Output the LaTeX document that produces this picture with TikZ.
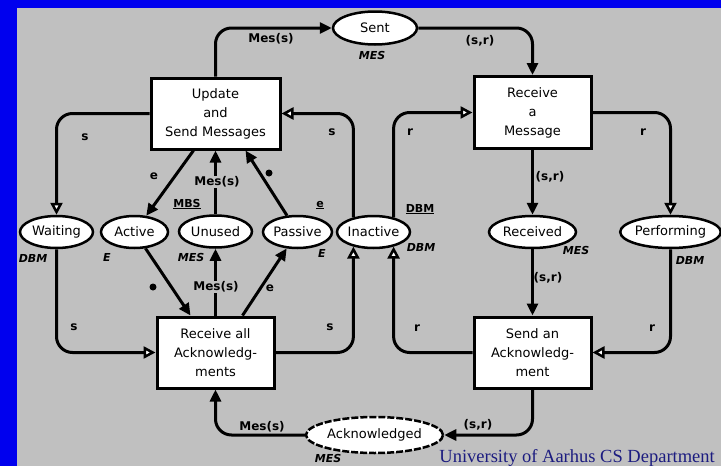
\documentclass[tikz,border=0pt]{standalone}
\usepackage{fontspec}
\setmainfont{DejaVu Sans}
\newfontfamily\captionfont{Liberation Serif}
\usetikzlibrary{arrows.meta,shapes.geometric}

\definecolor{frameblue}{HTML}{0000EE}
\definecolor{panelgray}{HTML}{C0C0C0}
\definecolor{captionnavy}{HTML}{1C1C80}

\tikzset{
  trans/.style={draw, line width=3pt, fill=white, align=center, inner sep=0pt,
    font=\fontsize{13}{19}\selectfont},
  place/.style={ellipse, draw, line width=2.5pt, fill=white, inner sep=0pt,
    minimum height=32pt, font=\fontsize{13}{15}\selectfont},
  arc/.style={line width=3pt, rounded corners=16pt},
  fillhead/.style={-{Triangle[length=12pt,width=11pt]}},
  openhead/.style={-{Triangle[length=12pt,width=12pt,fill=white,line width=2.5pt]}},
  lab/.style={font=\fontsize{12}{12}\selectfont\bfseries, inner sep=1pt},
  cset/.style={font=\fontsize{11}{11}\selectfont\bfseries\itshape, inner sep=0pt},
  initm/.style={font=\fontsize{11}{11}\selectfont\bfseries, inner sep=0pt},
  dotlab/.style={circle, fill=black, inner sep=0pt, minimum size=7pt}
}

\begin{document}
\begin{tikzpicture}[x=1pt,y=-1pt]
  % frame and panel
  \fill[frameblue] (0,0) rectangle (721,466);
  \fill[panelgray] (17,8) rectangle (721,466);
  \useasboundingbox (0,0) rectangle (721,466);

  % transitions
  \node[trans, minimum width=129pt, minimum height=71pt] (upd) at (215.5,113.5) {Update\\and\\Send Messages};
  \node[trans, minimum width=117pt, minimum height=72pt] (rcv) at (532.5,112.5) {Receive\\a\\Message};
  \node[trans, minimum width=117pt, minimum height=71pt] (rall) at (215.5,352.5) {Receive all\\Acknowledg-\\ments};
  \node[trans, minimum width=117pt, minimum height=71pt] (sack) at (532.5,352.5) {Send an\\Acknowledg-\\ment};

  % places
  \node[place, minimum width=73pt] (wait) at (56.5,232) {Waiting};
  \node[place, minimum width=67pt] (act) at (134.5,232) {Active};
  \node[place, minimum width=73pt] (unu) at (215.5,231.5) {Unused};
  \node[place, minimum width=69pt] (pas) at (297.5,232) {Passive};
  \node[place, minimum width=73pt] (inact) at (373.5,232) {Inactive};
  \node[place, minimum width=87pt] (recd) at (532.5,232) {Received};
  \node[place, minimum width=99pt] (perf) at (670.5,232) {Performing};
  \node[place, minimum width=84pt, minimum height=33pt] (sent) at (375,28) {Sent};
  \node[place, dashed, dash pattern=on 7pt off 2pt, minimum width=137pt, minimum height=36pt] (ackd) at (374.5,435) {Acknowledged};

  % colour sets
  \node[cset] (csw) at (33,258) {DBM};
  \node[cset] (csa) at (107,257) {E};
  \node[cset] (csu) at (191,257) {MES};
  \node[cset] (csp) at (322,253) {E};
  \node[cset] (csi) at (421,247) {DBM};
  \node[cset] (csr) at (576,250) {MES};
  \node[cset] (csf) at (690,260) {DBM};
  \node[cset] (css) at (372,55) {MES};
  \node[cset] (csk) at (328,458) {MES};

  % initial markings
  \node[initm] (imu) at (187,204) {\underline{MBS}};
  \node[initm] (imp) at (320,205) {\underline{e}};
  \node[initm] (imi) at (420,209) {\underline{DBM}};

  % arcs around the update transition
  \draw[arc,fillhead] (upd.north) |- (sent.west);
  \draw[arc,fillhead] (sent.east) -| (rcv.north);
  \draw[arc,openhead] (upd.west) -| (wait.north);
  \draw[arc,openhead] (inact.144) |- (upd.east);
  \draw[arc,fillhead] ([xshift=-22pt]upd.south) -- (act);
  \draw[arc,fillhead] (unu) -- (upd);
  \draw[arc,fillhead] (pas) -- ([xshift=30pt]upd.south);

  % arcs around the receive transition
  \draw[arc,openhead] (inact.36) |- (rcv.west);
  \draw[arc,fillhead] (rcv) -- (recd);
  \draw[arc,openhead] (rcv.east) -| (perf.north);

  % arcs around the acknowledgement transitions
  \draw[arc,openhead] (wait.south) |- (rall.west);
  \draw[arc,fillhead] (act) -- ([xshift=-25pt]rall.north);
  \draw[arc,fillhead] (rall) -- (unu);
  \draw[arc,fillhead] ([xshift=27pt]rall.north) -- (pas);
  \draw[arc,openhead] (rall.east) -| (inact.-144);
  \draw[arc,openhead] (sack.west) -| (inact.-36);
  \draw[arc,fillhead] (recd) -- (sack);
  \draw[arc,openhead] (perf.south) |- (sack.east);
  \draw[arc,fillhead] (sack.south) |- (ackd.east);
  \draw[arc,fillhead] (ackd.west) -| (rall.south);

  % arc inscriptions
  \node[lab] (a1) at (271,39) {Mes(s)};
  \node[lab] (a2) at (480,41) {(s,r)};
  \node[lab] (a3) at (550,177) {(s,r)};
  \node[lab] (a4) at (643,132) {r};
  \node[lab] (a5) at (410,132) {r};
  \node[lab] (a6) at (332,132) {s};
  \node[lab] (a7) at (85,137) {s};
  \node[lab] (a8) at (154,176) {e};
  \node[lab, fill=panelgray] (a9) at (217,182) {Mes(s)};
  \node[dotlab] (a10) at (269,173) {};
  \node[lab] (a11) at (74,327) {s};
  \node[dotlab] (a12) at (153,287) {};
  \node[lab, fill=panelgray] (a13) at (216,287) {Mes(s)};
  \node[lab] (a14) at (270,288) {e};
  \node[lab] (a15) at (330,327) {s};
  \node[lab] (a16) at (417,328) {r};
  \node[lab] (a17) at (548,278) {(s,r)};
  \node[lab] (a18) at (652,328) {r};
  \node[lab] (a19) at (478,425) {(s,r)};
  \node[lab] (a20) at (262,427) {Mes(s)};

  % footer
  \node[anchor=base east, text=captionnavy, inner sep=0pt, font=\captionfont\fontsize{18.5}{20}\selectfont] (foot) at (715,462) {University of Aarhus CS Department};
\end{tikzpicture}
\end{document}
